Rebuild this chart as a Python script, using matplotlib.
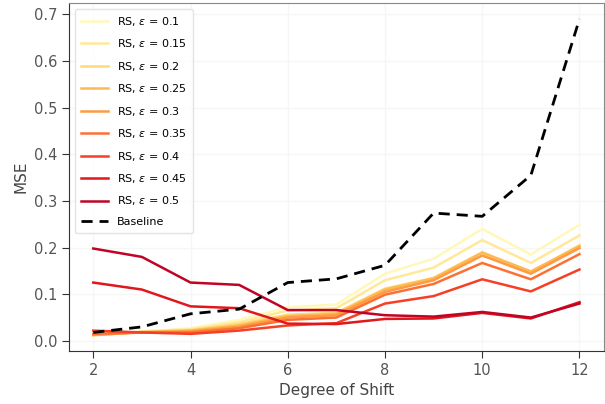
import numpy as np
import matplotlib
matplotlib.use("Agg")
import matplotlib.pyplot as plt

x = [2, 3, 4, 5, 6, 7, 8, 9, 10, 11, 12]
eps = ["0.1", "0.15", "0.2", "0.25", "0.3", "0.35", "0.4", "0.45", "0.5"]

rs_01 = [0.012, 0.020, 0.027, 0.045, 0.072, 0.078, 0.144, 0.176, 0.240, 0.185, 0.249]
rs_015 = [0.012, 0.020, 0.025, 0.040, 0.065, 0.070, 0.130, 0.157, 0.216, 0.167, 0.226]
rs_02 = [0.012, 0.019, 0.023, 0.036, 0.056, 0.060, 0.112, 0.135, 0.190, 0.147, 0.205]
rs_025 = [0.013, 0.019, 0.022, 0.033, 0.053, 0.058, 0.110, 0.134, 0.189, 0.149, 0.203]
rs_03 = [0.013, 0.018, 0.020, 0.030, 0.050, 0.055, 0.105, 0.130, 0.183, 0.144, 0.199]
rs_035 = [0.015, 0.018, 0.018, 0.027, 0.045, 0.050, 0.099, 0.122, 0.167, 0.132, 0.186]
rs_04 = [0.022, 0.018, 0.015, 0.022, 0.033, 0.038, 0.080, 0.096, 0.132, 0.106, 0.153]
rs_045 = [0.125, 0.110, 0.074, 0.070, 0.037, 0.036, 0.047, 0.048, 0.060, 0.048, 0.083]
rs_05 = [0.198, 0.180, 0.125, 0.120, 0.066, 0.066, 0.055, 0.052, 0.062, 0.050, 0.080]
baseline = [0.018, 0.030, 0.058, 0.068, 0.125, 0.133, 0.162, 0.274, 0.267, 0.355, 0.690]

series = [rs_01, rs_015, rs_02, rs_025, rs_03, rs_035, rs_04, rs_045, rs_05]

fig = plt.figure(figsize=(6.05, 4.04), dpi=100)
ax = fig.add_axes([0.114, 0.131, 0.884, 0.861])

cmap = plt.get_cmap("YlOrRd")
colors = [cmap(v) for v in np.linspace(0.05, 0.86, 9)]

for s, e, c in zip(series, eps, colors):
    ax.plot(x, s, color=c, lw=1.8, label=r"RS, $\varepsilon$ = " + e)
ax.plot(x, baseline, color="black", lw=2, ls=(0, (4, 2.5)), label="Baseline")

ax.set_xticks([2, 4, 6, 8, 10, 12])
ax.set_yticks([0.0, 0.1, 0.2, 0.3, 0.4, 0.5, 0.6, 0.7])
ax.set_xlabel("Degree of Shift", fontsize=11, color="#444444")
ax.set_ylabel("MSE", fontsize=11, color="#444444")
ax.tick_params(axis="both", labelsize=10.5, labelcolor="#555555", color="#333333", length=5)
ax.grid(True, color="#f6f6f6", lw=1)
ax.set_axisbelow(True)
for sp in ["left", "bottom"]:
    ax.spines[sp].set_color("#333333")
for sp in ["top", "right"]:
    ax.spines[sp].set_color("#888888")

leg = ax.legend(loc="upper left", fontsize=8, frameon=True, handlelength=2.5,
                labelspacing=0.85, borderpad=0.55)
leg.get_frame().set_edgecolor("#dddddd")

fig.savefig("out.png", dpi=100)
